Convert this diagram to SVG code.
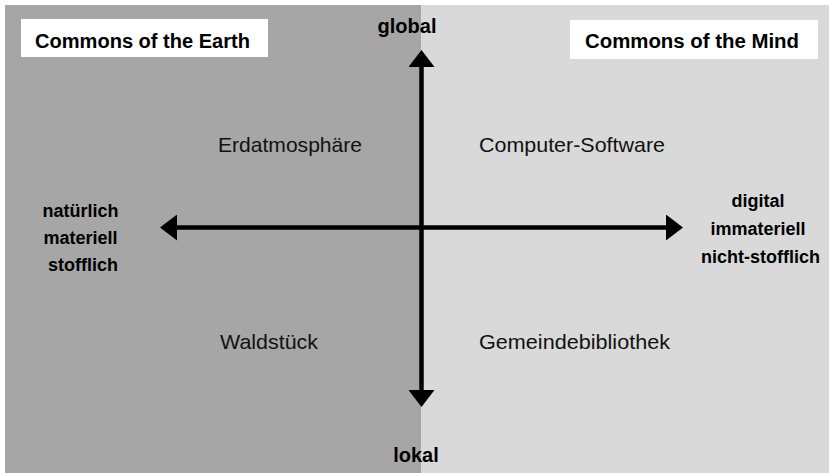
<svg xmlns="http://www.w3.org/2000/svg" width="830" height="473" viewBox="0 0 830 473">
  <style>
    .b { font-family: "Liberation Sans", Arial, sans-serif; font-weight: bold; fill: #000; }
    .r { font-family: "Liberation Sans", Arial, sans-serif; font-size: 21px; fill: #111; }
    .axis { stroke: #000; stroke-width: 4.5; fill: none; }
  </style>
  <defs>
    <marker id="head" markerUnits="userSpaceOnUse" markerWidth="17" markerHeight="26" viewBox="0 0 17 26" refX="0" refY="13" orient="auto-start-reverse">
      <path d="M0,0 L17,13 L0,26 Z" fill="#000"/>
    </marker>
  </defs>
  <rect width="830" height="473" fill="#fff"/>
  <g id="earth-panel">
    <rect x="5" y="5" width="416" height="468" fill="#a6a6a6"/>
  </g>
  <g id="mind-panel">
    <rect x="421" y="5" width="408" height="468" fill="#d9d9d9"/>
  </g>
  <g id="connectors">
    <line class="axis" x1="421.5" y1="67" x2="421.5" y2="390" marker-start="url(#head)" marker-end="url(#head)"/>
    <line class="axis" x1="177" y1="227.5" x2="666" y2="227.5" marker-start="url(#head)" marker-end="url(#head)"/>
  </g>
  <g id="title-earth">
    <rect x="21" y="19" width="247" height="38" fill="#fff"/>
    <text class="b" x="35" y="48" font-size="20" textLength="215" lengthAdjust="spacingAndGlyphs">Commons of the Earth</text>
  </g>
  <g id="title-mind">
    <rect x="570" y="20" width="248" height="39" fill="#fff"/>
    <text class="b" x="585" y="48" font-size="20" textLength="214" lengthAdjust="spacingAndGlyphs">Commons of the Mind</text>
  </g>
  <g id="label-global">
    <text class="b" x="407" y="33" font-size="20" text-anchor="middle">global</text>
  </g>
  <g id="label-lokal">
    <text class="b" x="416" y="462" font-size="20" text-anchor="middle">lokal</text>
  </g>
  <g id="label-left">
    <text class="b" font-size="18" text-anchor="middle">
      <tspan x="83" y="217">natürlich</tspan>
      <tspan x="83" y="244">materiell</tspan>
      <tspan x="83" y="271">stofflich</tspan>
    </text>
  </g>
  <g id="label-right">
    <text class="b" font-size="18" text-anchor="middle">
      <tspan x="760.5" y="207">digital</tspan>
      <tspan x="760.5" y="235">immateriell</tspan>
      <tspan x="760.5" y="263">nicht-stofflich</tspan>
    </text>
  </g>
  <g id="erdatmosphaere">
    <text class="r" x="218" y="152" textLength="144" lengthAdjust="spacingAndGlyphs">Erdatmosphäre</text>
  </g>
  <g id="computer-software">
    <text class="r" x="479" y="152" textLength="186" lengthAdjust="spacingAndGlyphs">Computer-Software</text>
  </g>
  <g id="waldstueck">
    <text class="r" x="220" y="349" textLength="98" lengthAdjust="spacingAndGlyphs">Waldstück</text>
  </g>
  <g id="gemeindebibliothek">
    <text class="r" x="479" y="349" textLength="191" lengthAdjust="spacingAndGlyphs">Gemeindebibliothek</text>
  </g>
</svg>
